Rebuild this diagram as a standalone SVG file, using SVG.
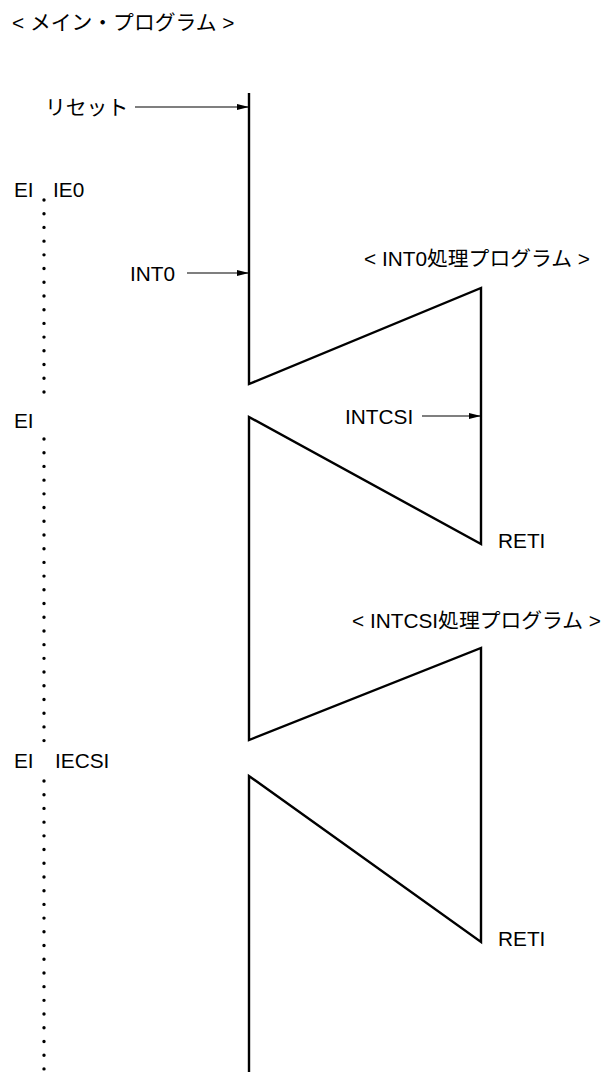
<svg xmlns="http://www.w3.org/2000/svg" width="608" height="1072" viewBox="0 0 608 1072">
<style>
text{font-family:"Liberation Sans","Noto Sans CJK JP",sans-serif;font-size:20.8px;fill:#000}
.flow{fill:none;stroke:#000;stroke-width:2.4;stroke-linejoin:miter}
.arr{fill:none;stroke:#000;stroke-width:1.2}
.dots{fill:none;stroke:#000;stroke-width:3.4;stroke-linecap:round;stroke-dasharray:0 13.71}
</style>
<defs>
<marker id="ah" viewBox="0 0 12 6" refX="12" refY="3" markerWidth="12" markerHeight="6" markerUnits="userSpaceOnUse" orient="auto">
<path d="M0,0 L12,3 L0,6 Z" fill="#000"/>
</marker>
</defs>
<g id="title"><text x="12" y="30">&lt; メイン・プログラム &gt;</text></g>
<g id="main-flow"><path class="flow" d="M249,93 V384 L481,288 V544 L249,417 V740 L481,648 V942 L249,776 V1072"/></g>
<g id="dots">
<line class="dots" x1="44" y1="200" x2="44" y2="393"/>
<line class="dots" x1="44" y1="439" x2="44" y2="742"/>
<line class="dots" x1="44" y1="781" x2="44" y2="1070"/>
</g>
<g id="labels">
<text x="45" y="115">リセット</text>
<text x="14" y="197">EI</text>
<text x="53" y="197">IE0</text>
<text x="130" y="281">INT0</text>
<text x="364" y="266">&lt; INT0処理プログラム &gt;</text>
<text x="14" y="428">EI</text>
<text x="345" y="424">INTCSI</text>
<text x="498" y="548">RETI</text>
<text x="352" y="628">&lt; INTCSI処理プログラム &gt;</text>
<text x="14" y="768">EI</text>
<text x="55" y="768">IECSI</text>
<text x="498" y="946">RETI</text>
</g>
<g id="connectors">
<line class="arr" x1="135" y1="107" x2="249" y2="107" marker-end="url(#ah)"/>
<line class="arr" x1="187" y1="273" x2="249" y2="273" marker-end="url(#ah)"/>
<line class="arr" x1="422" y1="416" x2="481" y2="416" marker-end="url(#ah)"/>
</g>
</svg>
